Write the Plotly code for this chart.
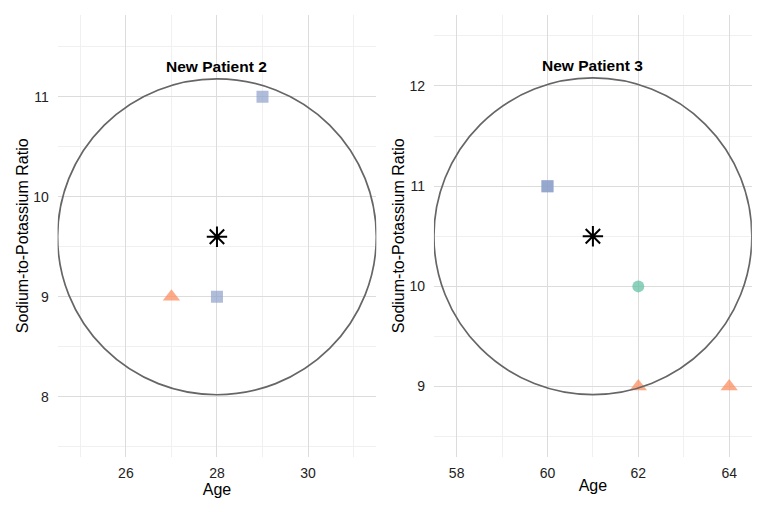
import numpy as np
import plotly.graph_objects as go

# ---- data ----
panel_titles = ["New Patient 2", "New Patient 3"]
new_age = [28, 61]
new_ratio = [9.6, 10.5]

# neighbours per panel
p2_age = [29, 28, 27]
p2_ratio = [11, 9, 9]
p2_group = ["B", "B", "A"]

p3_age = [60, 60, 62, 62, 64]
p3_ratio = [11, 11, 10, 9, 9]
p3_group = ["B", "B", "C", "A", "A"]

radius_x = 3.5
radius_y = 1.58
title_offset = 1.7

x_ranges = [[24.5, 31.5], [57.5, 64.5]]
y_ranges = [[7.4, 11.82], [8.3, 12.71]]
x_ticks = [[26, 28, 30], [58, 60, 62, 64]]
y_ticks = [[8, 9, 10, 11], [9, 10, 11, 12]]

group_color = {"A": "rgba(252,141,98,0.75)", "B": "rgba(141,160,203,0.7)", "C": "rgba(102,194,165,0.75)"}
group_symbol = {"A": "triangle-up", "B": "square", "C": "circle"}
group_size = {"A": 15, "B": 12, "C": 12}

FONT = "Liberation Sans, Arial, sans-serif"

fig = go.Figure()

panels = [(p2_age, p2_ratio, p2_group), (p3_age, p3_ratio, p3_group)]
for i, (ages, ratios, groups) in enumerate(panels):
    xa = "x" if i == 0 else "x2"
    ya = "y" if i == 0 else "y2"
    for g in ["A", "B", "C"]:
        xs = [a for a, gg in zip(ages, groups) if gg == g]
        ys = [r for r, gg in zip(ratios, groups) if gg == g]
        if not xs:
            continue
        fig.add_trace(go.Scatter(
            x=xs, y=ys, mode="markers", xaxis=xa, yaxis=ya, showlegend=False,
            marker=dict(symbol=group_symbol[g], size=group_size[g], color=group_color[g],
                        line=dict(width=0)),
        ))
    # circle
    cx, cy = new_age[i], new_ratio[i]
    fig.add_shape(type="circle", xref=xa, yref=ya,
                  x0=cx - radius_x, x1=cx + radius_x, y0=cy - radius_y, y1=cy + radius_y,
                  line=dict(color="#666666", width=1.7), layer="above")
    # new patient star
    fig.add_trace(go.Scatter(
        x=[cx], y=[cy], mode="markers", xaxis=xa, yaxis=ya, showlegend=False,
        marker=dict(symbol="asterisk-open", size=17, color="black", line=dict(width=2, color="black")),
    ))
    fig.add_annotation(x=cx, y=cy + title_offset, xref=xa, yref=ya, text="<b>" + panel_titles[i] + "</b>",
                       showarrow=False, font=dict(family=FONT, size=15.5, color="black"))

axis_common = dict(
    showline=False, zeroline=False, showgrid=True, gridcolor="#DCDCDC", gridwidth=1,
    ticks="outside", tickcolor="rgba(0,0,0,0)", automargin=False,
    tickfont=dict(family=FONT, size=14, color="#222222"),
    title_font=dict(family=FONT, size=16, color="black"),
)

domains_x = [[0.075, 0.49], [0.565, 0.979]]
for i in range(2):
    sfx = "" if i == 0 else "2"
    fig.update_layout(**{
        "xaxis" + sfx: dict(axis_common, domain=domains_x[i], range=x_ranges[i],
                            tickvals=x_ticks[i], anchor="y" + sfx, ticklen=3,
                            minor=dict(showgrid=True, gridcolor="#F0F0F0", gridwidth=1, dtick=1),
                            title=dict(text="Age", standoff=0)),
        "yaxis" + sfx: dict(axis_common, domain=[0.108, 0.971], range=y_ranges[i],
                            tickvals=y_ticks[i], anchor="x" + sfx, ticklen=5,
                            minor=dict(showgrid=True, gridcolor="#F0F0F0", gridwidth=1, dtick=0.5),
                            title=dict(text="Sodium-to-Potassium Ratio", standoff=0)),
    })

fig.update_layout(
    width=768, height=512, plot_bgcolor="white", paper_bgcolor="white",
    margin=dict(l=0, r=0, t=0, b=0), showlegend=False,
    font=dict(family=FONT),
)

fig.write_html("out.html", config={"displayModeBar": False},
               post_script="document.body.style.margin='0';")
